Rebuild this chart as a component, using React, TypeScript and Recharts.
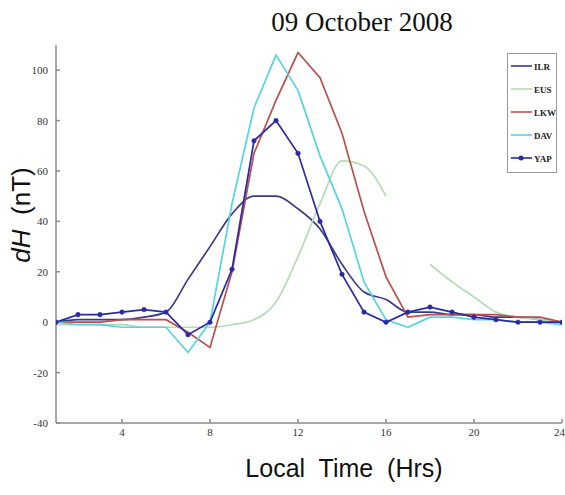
import React from 'react';
import { LineChart, Line, XAxis, YAxis, Legend, Label } from 'recharts';

const hours = [1, 2, 3, 4, 5, 6, 7, 8, 9, 10, 11, 12, 13, 14, 15, 16, 17, 18, 19, 20, 21, 22, 23, 24];
const ILR = [0, 1, 1, 1, 2, 4, 17, 30, 43, 50, 50, 45, 37, 23, 12, 9, 4, 4, 3, 3, 2, 2, 1, 0];
const EUS: (number | null)[] = [-1, -1, -1, -1, -2, -2, -2, -2, -1, 1, 8, 26, 47, 64, 62, 50, null, 23, 16, 10, 4, 2, 1, 0];
const LKW = [0, 0, 0, 1, 1, 1, -4, -10, 20, 67, 88, 107, 97, 75, 44, 18, 2, 3, 3, 3, 3, 2, 2, 0];
const DAV = [0, -1, -1, -2, -2, -2, -12, 0, 47, 85, 106, 92, 66, 45, 16, 1, -2, 2, 2, 1, 1, 0, 0, -1];
const YAP = [0, 3, 3, 4, 5, 4, -5, 0, 21, 72, 80, 67, 40, 19, 4, 0, 4, 6, 4, 2, 1, 0, 0, 0];

const xTicks = [4, 8, 12, 16, 20, 24];
const yTicks = [-40, -20, 0, 20, 40, 60, 80, 100];
const title = '09 October 2008';
const xLabel = 'Local  Time  (Hrs)';

const series = [
  { key: 'ILR', color: '#3b3b85', dot: false, type: 'monotone' },
  { key: 'EUS', color: '#b4dcb4', dot: false, type: 'monotone' },
  { key: 'LKW', color: '#b8504c', dot: false, type: 'linear' },
  { key: 'DAV', color: '#55d4e2', dot: false, type: 'linear' },
  { key: 'YAP', color: '#2a2aa8', dot: true, type: 'linear' },
];

const data = hours.map((h, i) => ({
  h,
  ILR: ILR[i],
  EUS: EUS[i],
  LKW: LKW[i],
  DAV: DAV[i],
  YAP: YAP[i],
}));

const tickStyle = { fontFamily: 'Liberation Serif', fontSize: 11, fill: '#333' };
const axisColor = '#8a8a8a';

const renderLegend = () => (
  <div
    style={{
      width: 50,
      height: 120,
      border: '1px solid #9a9a9a',
      background: '#fff',
      boxSizing: 'border-box',
    }}
  >
    <svg width={48} height={118} style={{ display: 'block' }}>
      {series.map((s, i) => {
        const y = 12 + i * 23;
        return (
          <g key={s.key}>
            <line x1={3} y1={y} x2={24} y2={y} stroke={s.color} strokeWidth={1.6} />
            {s.dot && <circle cx={13} cy={y} r={2.5} fill={s.color} />}
            <text x={26} y={y + 3.5} fontFamily="Liberation Serif" fontSize={9} fontWeight="bold" fill="#222">
              {s.key}
            </text>
          </g>
        );
      })}
    </svg>
  </div>
);

export default function App() {
  return (
    <div style={{ position: 'absolute', left: 0, top: 0, width: 565, height: 495, background: '#fff' }}>
      <LineChart width={565} height={495} data={data} margin={{ top: 45, right: 3, bottom: 42, left: 0 }}>
        <XAxis
          dataKey="h"
          type="number"
          domain={[1, 24]}
          ticks={xTicks}
          height={30}
          stroke={axisColor}
          strokeWidth={1.5}
          tickSize={-4}
          tickMargin={9}
          tick={tickStyle}
          allowDataOverflow
        >
          <Label
            content={() => (
              <text x={344} y={477} textAnchor="middle" fontFamily="Liberation Sans" fontSize={25} fill="#111" style={{ whiteSpace: 'pre' }}>
                {xLabel}
              </text>
            )}
          />
        </XAxis>
        <XAxis
          xAxisId="top"
          orientation="top"
          dataKey="h"
          type="number"
          domain={[1, 24]}
          ticks={xTicks}
          height={0}
          stroke={axisColor}
          strokeWidth={1.5}
          tickSize={-4}
          tick={false}
        />
        <YAxis
          type="number"
          domain={[-40, 110]}
          ticks={yTicks}
          width={56}
          stroke={axisColor}
          strokeWidth={1.5}
          tickSize={-4}
          tickMargin={12}
          tick={tickStyle}
          allowDataOverflow
        >
          <Label
            content={() => (
              <g>
                <text x={362} y={31} textAnchor="middle" fontFamily="Liberation Serif" fontSize={27} fill="#111">
                  {title}
                </text>
                <text
                  x={30}
                  y={215}
                  transform="rotate(-90 30 215)"
                  textAnchor="middle"
                  fontFamily="Liberation Sans"
                  fontSize={26}
                  fill="#111"
                  style={{ whiteSpace: 'pre' }}
                >
                  <tspan fontStyle="italic">dH</tspan>
                  <tspan>{'  (nT)'}</tspan>
                </text>
              </g>
            )}
          />
        </YAxis>
        <YAxis
          yAxisId="right"
          orientation="right"
          type="number"
          domain={[-40, 110]}
          ticks={yTicks}
          width={0}
          stroke={axisColor}
          strokeWidth={1.5}
          tickSize={-4}
          tick={false}
        />
        <Legend
          layout="vertical"
          align="center"
          verticalAlign="middle"
          content={renderLegend}
          wrapperStyle={{ position: 'absolute', left: 507, top: 53, width: 50, height: 120 }}
        />
        {series.map((s) => (
          <Line
            key={s.key}
            dataKey={s.key}
            type={s.type as any}
            stroke={s.color}
            strokeWidth={1.7}
            dot={s.dot ? { r: 2.3, fill: s.color, stroke: s.color, strokeWidth: 0.5 } : false}
            isAnimationActive={false}
            connectNulls={false}
          />
        ))}
      </LineChart>
    </div>
  );
}
